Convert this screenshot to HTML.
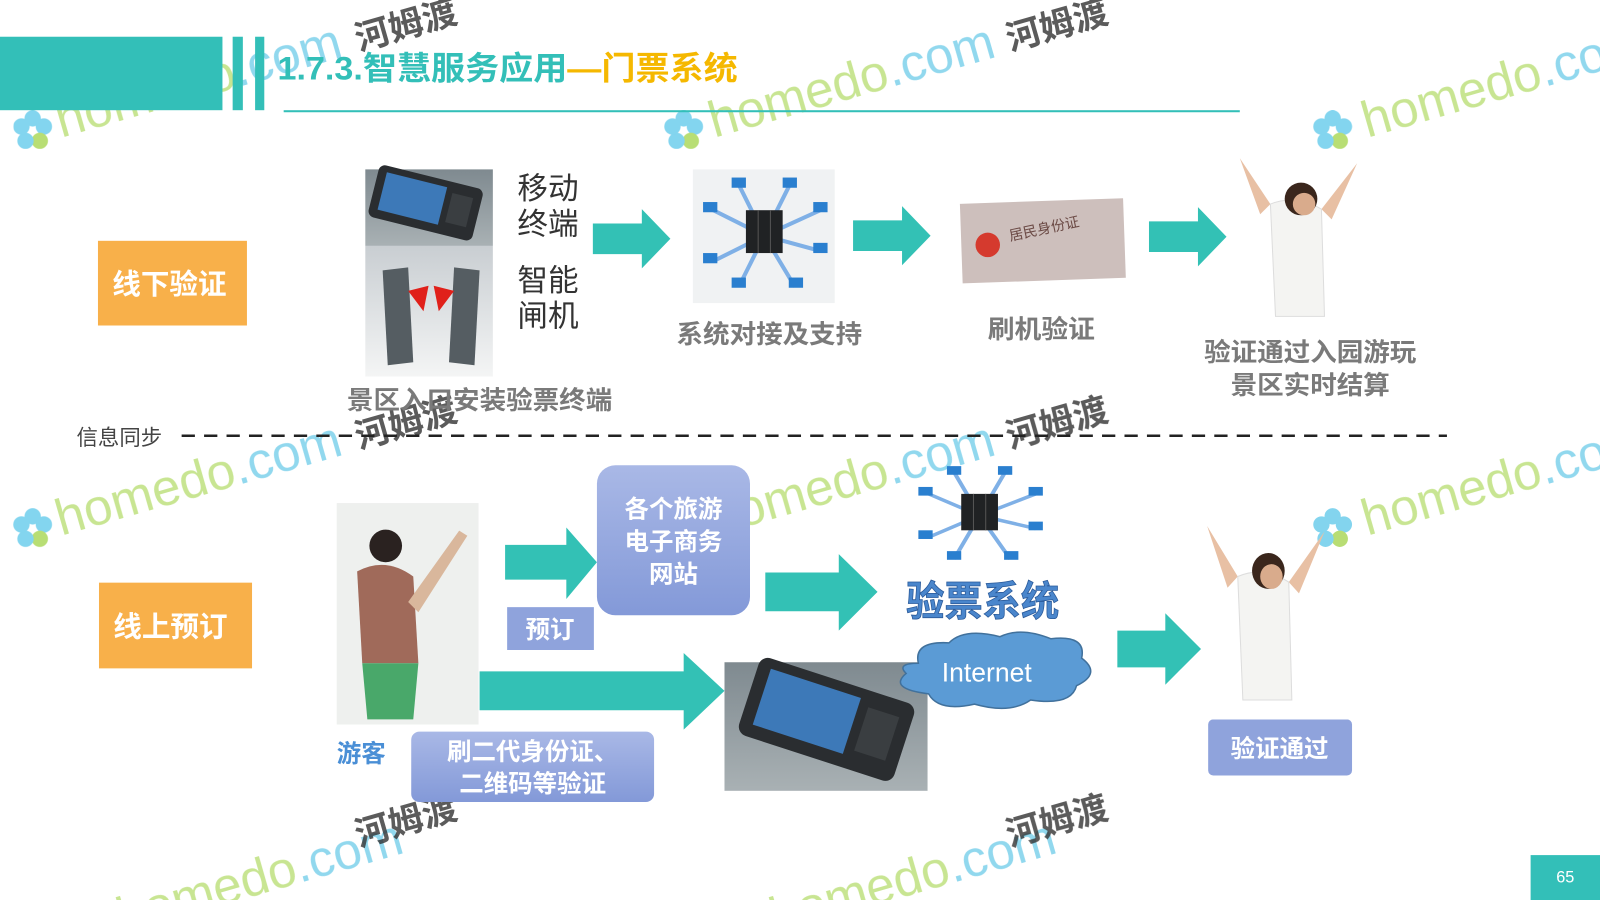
<!DOCTYPE html>
<html><head><meta charset="utf-8"><style>
html,body{margin:0;padding:0;background:#fff;overflow:hidden}
svg{display:block}
text{font-family:"Liberation Sans","Noto Sans CJK SC",sans-serif}
</style></head><body>
<svg width="1600" height="900" viewBox="0 0 1568 882" preserveAspectRatio="none" xmlns="http://www.w3.org/2000/svg">
<defs>
<linearGradient id="bl" x1="0" y1="0" x2="0" y2="1"><stop offset="0" stop-color="#a9b8e6"/><stop offset="1" stop-color="#8399d8"/></linearGradient>
<linearGradient id="gr" x1="0" y1="0" x2="0" y2="1"><stop offset="0" stop-color="#c9ced2"/><stop offset="1" stop-color="#f4f5f5"/></linearGradient>
<linearGradient id="ph" x1="0" y1="0" x2="0" y2="1"><stop offset="0" stop-color="#7f8a90"/><stop offset="1" stop-color="#a9b1b4"/></linearGradient>
<g id="phone"><rect x="0" y="0" width="100" height="50" rx="6" fill="#2a2d30"/><rect x="8" y="6" width="58" height="36" fill="#3d79b8"/><rect x="72" y="10" width="20" height="28" fill="#3a3e41"/></g>
<g id="net">
<g stroke="#7fb0e6" stroke-width="4"><line x1="70" y1="65" x2="20" y2="40"/><line x1="70" y1="65" x2="45" y2="15"/><line x1="70" y1="65" x2="95" y2="15"/><line x1="70" y1="65" x2="125" y2="40"/><line x1="70" y1="65" x2="125" y2="80"/><line x1="70" y1="65" x2="20" y2="90"/><line x1="70" y1="65" x2="45" y2="115"/><line x1="70" y1="65" x2="100" y2="115"/></g>
<rect x="52" y="40" width="36" height="42" fill="#202224"/><line x1="64" y1="40" x2="64" y2="82" stroke="#555"/><line x1="76" y1="40" x2="76" y2="82" stroke="#555"/>
<g fill="#2a7fcf"><rect x="10" y="32" width="14" height="10"/><rect x="38" y="8" width="14" height="10"/><rect x="88" y="8" width="14" height="10"/><rect x="118" y="32" width="14" height="10"/><rect x="118" y="72" width="14" height="10"/><rect x="10" y="82" width="14" height="10"/><rect x="38" y="106" width="14" height="10"/><rect x="94" y="106" width="14" height="10"/></g>
</g>
<g id="lady">
<path d="M35 5 L55 60 L65 50 Z" fill="#e8c0a4"/><path d="M150 10 L125 65 L115 55 Z" fill="#e8c0a4"/>
<path d="M65 50 Q90 40 115 55 L118 160 L70 160 Z" fill="#f4f4f2" stroke="#ddd"/>
<circle cx="95" cy="45" r="16" fill="#3a261c"/><circle cx="98" cy="50" r="11" fill="#d9ab8c"/>
</g>
<g id="flower" opacity="0.7"><circle cx="0" cy="-12" r="8" fill="#4fc3e8"/><circle cx="11" cy="-4" r="8" fill="#4fc3e8"/><circle cx="7" cy="10" r="8" fill="#9bd03a"/><circle cx="-7" cy="10" r="8" fill="#4fc3e8"/><circle cx="-11" cy="-4" r="8" fill="#4fc3e8"/></g>
</defs>

<!-- watermarks -->
<g opacity="0.55" font-size="50" fill="#9bd03a">
<text x="60" y="135" transform="rotate(-16 60 135)">homedo<tspan fill="#38b8e0">.com</tspan></text>
<text x="700" y="135" transform="rotate(-16 700 135)">homedo<tspan fill="#38b8e0">.com</tspan></text>
<text x="1340" y="135" transform="rotate(-16 1340 135)">homedo<tspan fill="#38b8e0">.com</tspan></text>
<text x="60" y="525" transform="rotate(-16 60 525)">homedo<tspan fill="#38b8e0">.com</tspan></text>
<text x="700" y="525" transform="rotate(-16 700 525)">homedo<tspan fill="#38b8e0">.com</tspan></text>
<text x="1340" y="525" transform="rotate(-16 1340 525)">homedo<tspan fill="#38b8e0">.com</tspan></text>
<text x="120" y="915" transform="rotate(-16 120 915)">homedo<tspan fill="#38b8e0">.com</tspan></text>
<text x="760" y="915" transform="rotate(-16 760 915)">homedo<tspan fill="#38b8e0">.com</tspan></text>
</g>
<use href="#flower" transform="translate(32,128)"/><use href="#flower" transform="translate(670,128)"/><use href="#flower" transform="translate(1306,128)"/>
<use href="#flower" transform="translate(32,518)"/><use href="#flower" transform="translate(1306,518)"/>
<g font-size="34" font-weight="bold" fill="#333" opacity="0.8">
<text x="352" y="50" transform="rotate(-16 352 50)">河姆渡</text>
<text x="990" y="50" transform="rotate(-16 990 50)">河姆渡</text>
<text x="352" y="440" transform="rotate(-16 352 440)">河姆渡</text>
<text x="990" y="440" transform="rotate(-16 990 440)">河姆渡</text>
<text x="352" y="830" transform="rotate(-16 352 830)">河姆渡</text>
<text x="990" y="830" transform="rotate(-16 990 830)">河姆渡</text>
</g>

<!-- header -->
<rect x="0" y="36" width="218" height="72" fill="#33bfb8"/>
<rect x="228" y="36" width="10" height="72" fill="#33bfb8"/>
<rect x="250" y="36" width="9" height="72" fill="#33bfb8"/>
<text x="272" y="78" font-size="32" font-weight="bold" fill="#33bfb8" textLength="451" lengthAdjust="spacingAndGlyphs">1.7.3.智慧服务应用<tspan fill="#f5b800">—门票系统</tspan></text>
<rect x="278" y="108" width="937" height="2" fill="#33bfb8"/>

<!-- top row -->
<rect x="96" y="236" width="146" height="83" fill="#f8b04a"/>
<text x="166" y="288" font-size="28" font-weight="bold" fill="#fff" text-anchor="middle">线下验证</text>
<rect x="358" y="166" width="125" height="75" fill="url(#ph)"/>
<use href="#phone" transform="translate(365,172) rotate(14 50 25) scale(1.05)"/>
<rect x="358" y="241" width="125" height="128" fill="url(#gr)"/>
<path d="M375 265 L400 262 L405 355 L380 358 Z" fill="#555d62"/><path d="M445 262 L470 265 L465 358 L440 355 Z" fill="#555d62"/>
<path d="M400 285 L420 280 L415 305 Z" fill="#e0201a"/><path d="M445 285 L425 280 L430 305 Z" fill="#e0201a"/>
<text x="507" y="195" font-size="30" fill="#333">移动</text>
<text x="507" y="230" font-size="30" fill="#333">终端</text>
<text x="507" y="285" font-size="30" fill="#333">智能</text>
<text x="507" y="320" font-size="30" fill="#333">闸机</text>
<text x="340" y="401" font-size="25" font-weight="bold" fill="#7a7a7a" textLength="260" lengthAdjust="spacingAndGlyphs">景区入口安装验票终端</text>

<polygon points="581,219 629,219 629,205 657,234 629,263 629,249 581,249" fill="#33c1b5"/>
<rect x="679" y="166" width="139" height="131" fill="#f0f2f3"/>
<use href="#net" transform="translate(679,166)"/>
<text x="663" y="336" font-size="25" font-weight="bold" fill="#7a7a7a" textLength="182" lengthAdjust="spacingAndGlyphs">系统对接及支持</text>

<polygon points="836,216 884,216 884,202 912,231 884,260 884,246 836,246" fill="#33c1b5"/>
<rect x="942" y="197" width="160" height="78" fill="#cdbfbc" transform="rotate(-2 1022 236)"/>
<circle cx="968" cy="240" r="12" fill="#d53a2e"/>
<text x="990" y="236" font-size="14" fill="#6b4a45" transform="rotate(-12 990 236)">居民身份证</text>
<text x="968" y="331" font-size="25" font-weight="bold" fill="#7a7a7a" textLength="105" lengthAdjust="spacingAndGlyphs">刷机验证</text>

<polygon points="1126,217 1174,217 1174,203 1202,232 1174,261 1174,247 1126,247" fill="#33c1b5"/>
<use href="#lady" transform="translate(1180,150)"/>
<text x="1180" y="354" font-size="25" font-weight="bold" fill="#7a7a7a" textLength="208" lengthAdjust="spacingAndGlyphs">验证通过入园游玩</text>
<text x="1206" y="386" font-size="25" font-weight="bold" fill="#7a7a7a" textLength="156" lengthAdjust="spacingAndGlyphs">景区实时结算</text>

<!-- divider -->
<text x="75" y="436" font-size="21" fill="#444">信息同步</text>
<line x1="178" y1="427" x2="1418" y2="427" stroke="#222" stroke-width="2.5" stroke-dasharray="13,9"/>

<!-- bottom row -->
<rect x="97" y="571" width="150" height="84" fill="#f8b04a"/>
<text x="167" y="624" font-size="28" font-weight="bold" fill="#fff" text-anchor="middle">线上预订</text>
<rect x="330" y="493" width="139" height="217" fill="#eef0ee"/>
<circle cx="378" cy="535" r="16" fill="#2a2220"/><path d="M350 560 Q378 545 405 565 L410 650 L355 650 Z" fill="#a06a5a"/>
<path d="M355 650 L410 650 L405 705 L360 705 Z" fill="#49a86a"/>
<path d="M400 590 L450 520 L458 525 L410 600 Z" fill="#d9b79c"/>

<polygon points="495,534 555,534 555,517 585,551 555,587 555,568 495,568" fill="#33c1b5"/>
<rect x="585" y="456" width="150" height="147" rx="18" fill="url(#bl)"/>
<g font-size="24" font-weight="bold" fill="#fff" text-anchor="middle"><text x="660" y="507">各个旅游</text><text x="660" y="539">电子商务</text><text x="660" y="571">网站</text></g>
<rect x="497" y="595" width="85" height="42" fill="#8fa3dc"/>
<text x="539" y="625" font-size="24" font-weight="bold" fill="#fff" text-anchor="middle">预订</text>

<polygon points="750,561 822,561 822,543 860,580 822,618 822,599 750,599" fill="#33c1b5"/>
<use href="#net" transform="translate(890,450) scale(1.0,0.85)"/>
<text x="888" y="603" font-size="40" font-weight="bold" fill="#4a86cc" stroke="#2a5a9a" stroke-width="0.8" textLength="150" lengthAdjust="spacingAndGlyphs">验票系统</text>

<polygon points="470,658 670,658 670,640 710,677 670,715 670,696 470,696" fill="#33c1b5"/>
<rect x="710" y="649" width="199" height="126" fill="url(#ph)"/>
<use href="#phone" transform="translate(730,665) rotate(18 80 40) scale(1.6)"/>

<path d="M900 650 Q895 628 930 630 Q945 615 980 624 Q1000 614 1030 626 Q1065 622 1060 645 Q1080 660 1055 672 Q1050 692 1010 686 Q990 700 955 690 Q920 698 910 680 Q870 675 888 660 Q878 650 900 650 Z" fill="#5b9bd5" stroke="#41719c" stroke-width="1.5"/>
<text x="967" y="668" font-size="26" fill="#fff" text-anchor="middle">Internet</text>

<polygon points="1095,618 1142,618 1142,601 1177,636 1142,671 1142,654 1095,654" fill="#33c1b5"/>
<use href="#lady" transform="translate(1148,510) scale(1,1.1)"/>
<rect x="1184" y="705" width="141" height="55" rx="5" fill="#8fa3dc"/>
<text x="1254" y="742" font-size="24" font-weight="bold" fill="#fff" text-anchor="middle">验证通过</text>

<text x="330" y="747" font-size="24" font-weight="bold" fill="#4a8fd6">游客</text>
<rect x="403" y="717" width="238" height="69" rx="8" fill="url(#bl)"/>
<text x="522" y="745" font-size="24" font-weight="bold" fill="#fff" text-anchor="middle">刷二代身份证、</text>
<text x="522" y="776" font-size="24" font-weight="bold" fill="#fff" text-anchor="middle">二维码等验证</text>

<rect x="1500" y="838" width="68" height="44" fill="#33bfb8"/>
<text x="1534" y="865" font-size="16" fill="#fff" text-anchor="middle">65</text>
</svg>
</body></html>
